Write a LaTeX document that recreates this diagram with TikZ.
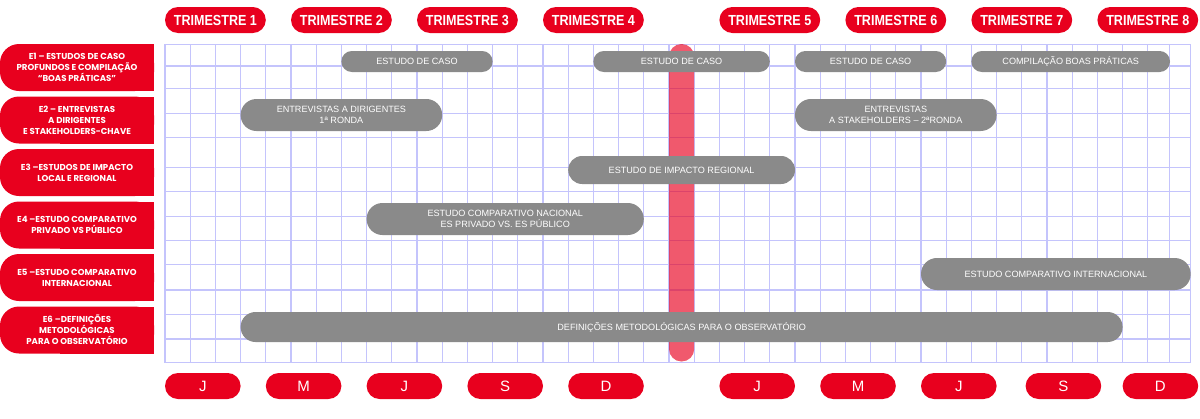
\documentclass[tikz,border=0pt]{standalone}
\usepackage{fontspec}
\setmainfont{Liberation Sans}
\newfontfamily\labfont{Poppins}
\newfontfamily\hdrfont{Liberation Sans}[FakeStretch=0.86]
\definecolor{redm}{RGB}{232,0,30}
\definecolor{barg}{RGB}{138,138,138}
\definecolor{gridc}{RGB}{196,196,252}
\tikzset{
  gridline/.style={draw=gridc, line width=1.1pt},
  gbar/.style={fill=barg, text=white, inner sep=0pt, align=center,
    font=\fontsize{9.1}{11}\selectfont},
  hdrpill/.style={fill=redm, text=white, inner sep=0pt, rounded corners=13pt,
    minimum width=100.8pt, minimum height=26pt,
    font=\hdrfont\bfseries\fontsize{14.6}{16}\selectfont},
  monpill/.style={fill=redm, text=white, inner sep=0pt, rounded corners=13pt,
    minimum width=75.6pt, minimum height=26pt,
    font=\fontsize{15}{16}\selectfont},
  labtext/.style={text=white, inner sep=0pt, align=center,
    font=\labfont\bfseries\fontsize{8.6}{11}\selectfont},
}
\newcommand\labbox[2]{%
  \fill[redm, rounded corners=19pt] (0,#1) rectangle (154,#2);
  \fill[redm] (60,#1) rectangle (154,#2);}
\begin{document}
\begin{tikzpicture}[x=1pt,y=-1pt]
\useasboundingbox (0,0) rectangle (1200,418);
% grid
\foreach \k in {0,...,39} \draw[gridline] ({165+25.2*\k},44.7) -- ({165+25.2*\k},362.3);
\draw[gridline] (1169.3,44.7) -- (1169.3,362.3);
\foreach \y in {66,88.3,113.3,137.3,167.3,191.7,216.7,240.7,264.3,290,314.3,339}
  \draw[gridline] (165,\y) -- (1190.7,\y);
\draw[gridline] (165,44.7) rectangle (1190.7,362.3);
% red milestone bar
\node[fill=redm, fill opacity=0.65, inner sep=0pt, minimum width=25.2pt,
  minimum height=317.5pt, rounded corners=12.5pt] (redbar) at (681.6,202.75) {};
% header pills
\node[hdrpill] (t1) at (215.4,20) {TRIMESTRE 1};
\node[hdrpill] (t2) at (341.4,20) {TRIMESTRE 2};
\node[hdrpill] (t3) at (467.4,20) {TRIMESTRE 3};
\node[hdrpill] (t4) at (593.4,20) {TRIMESTRE 4};
\node[hdrpill] (t5) at (769.8,20) {TRIMESTRE 5};
\node[hdrpill] (t6) at (895.8,20) {TRIMESTRE 6};
\node[hdrpill] (t7) at (1021.8,20) {TRIMESTRE 7};
\node[hdrpill] (t8) at (1147.8,20) {TRIMESTRE 8};
% month pills
\node[monpill] (m1) at (202.8,386) {J};
\node[monpill] (m2) at (303.6,386) {M};
\node[monpill] (m3) at (404.4,386) {J};
\node[monpill] (m4) at (505.2,386) {S};
\node[monpill] (m5) at (606,386) {D};
\node[monpill] (m6) at (757.2,386) {J};
\node[monpill] (m7) at (858,386) {M};
\node[monpill] (m8) at (958.8,386) {J};
\node[monpill] (m9) at (1063.4,386) {S};
\node[monpill] (m10) at (1160.4,386) {D};
% left labels
\labbox{44}{91}
\node[labtext] (e1) at (77,67.5) {E1 – ESTUDOS DE CASO\\PROFUNDOS E COMPILAÇÃO\\“BOAS PRÁTICAS”};
\labbox{96.5}{143.5}
\node[labtext] (e2) at (77,120) {E2 – ENTREVISTAS\\A DIRIGENTES\\E STAKEHOLDERS-CHAVE};
\labbox{149}{196}
\node[labtext] (e3) at (77,172.5) {E3 –ESTUDOS DE IMPACTO\\LOCAL E REGIONAL};
\labbox{201.5}{248.5}
\node[labtext] (e4) at (77,225) {E4 –ESTUDO COMPARATIVO\\PRIVADO VS PÚBLICO};
\labbox{254}{301}
\node[labtext] (e5) at (77,277.5) {E5 –ESTUDO COMPARATIVO\\INTERNACIONAL};
\labbox{306.5}{353.5}
\node[labtext] (e6) at (77,330) {E6 –DEFINIÇÕES\\METODOLÓGICAS\\PARA O OBSERVATÓRIO};
% gray bars
\node[gbar, minimum width=151.2pt, minimum height=21pt, rounded corners=10.4pt] (b11) at (417,61.5) {ESTUDO DE CASO};
\node[gbar, minimum width=176.4pt, minimum height=21pt, rounded corners=10.4pt] (b12) at (681.6,61.5) {ESTUDO DE CASO};
\node[gbar, minimum width=151.2pt, minimum height=21pt, rounded corners=10.4pt] (b13) at (870.6,61.5) {ESTUDO DE CASO};
\node[gbar, minimum width=198.6pt, minimum height=21pt, rounded corners=10.4pt] (b14) at (1070.7,61.5) {COMPILAÇÃO BOAS PRÁTICAS};
\node[gbar, minimum width=201.6pt, minimum height=32pt, rounded corners=15.9pt] (b21) at (341.4,115) {ENTREVISTAS A DIRIGENTES\\1ª RONDA};
\node[gbar, minimum width=201.6pt, minimum height=32pt, rounded corners=15.9pt] (b22) at (895.8,115) {ENTREVISTAS\\A STAKEHOLDERS – 2ªRONDA};
\node[gbar, minimum width=226.8pt, minimum height=28pt, rounded corners=13.9pt] (b3) at (681.6,170) {ESTUDO DE IMPACTO REGIONAL};
\node[gbar, minimum width=277.2pt, minimum height=32pt, rounded corners=15.9pt] (b4) at (505.2,219) {ESTUDO COMPARATIVO NACIONAL\\ES PRIVADO VS. ES PÚBLICO};
\node[gbar, minimum width=269.7pt, minimum height=32pt, rounded corners=15.9pt] (b5) at (1055.85,274) {ESTUDO COMPARATIVO INTERNACIONAL};
\node[gbar, minimum width=882pt, minimum height=30pt, rounded corners=14.9pt] (b6) at (681.6,327) {DEFINIÇÕES METODOLÓGICAS PARA O OBSERVATÓRIO};
\end{tikzpicture}
\end{document}
